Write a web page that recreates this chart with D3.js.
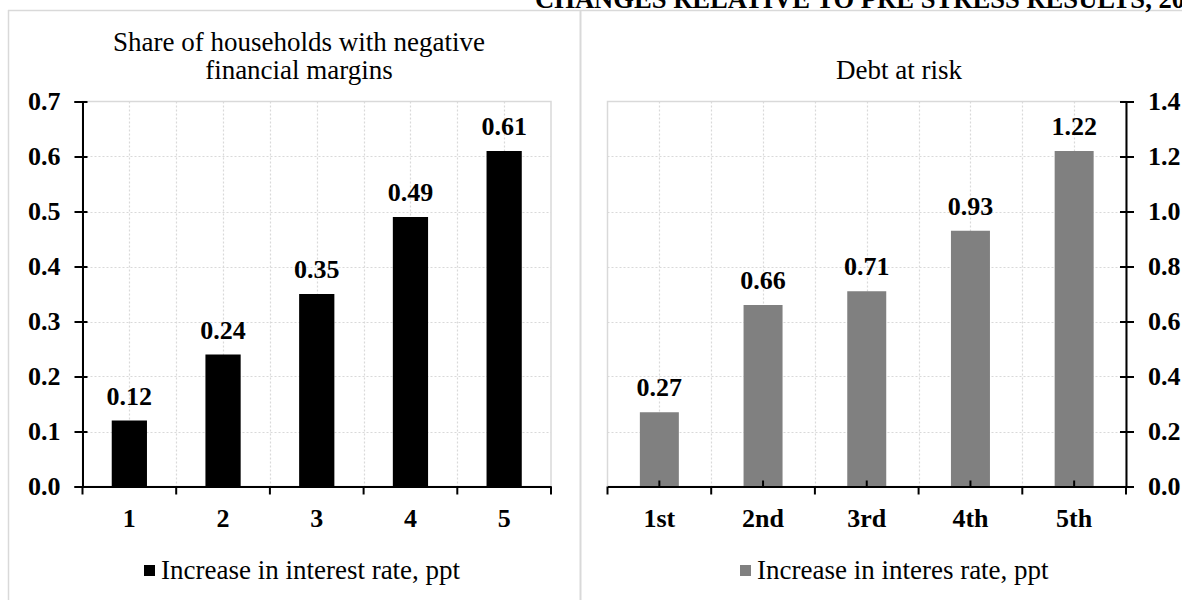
<!DOCTYPE html>
<html>
<head>
<meta charset="utf-8">
<script src="https://cdn.jsdelivr.net/npm/d3@7"></script>
<style>
  html, body { margin: 0; padding: 0; background: #fff; }
  svg { display: block; }
  text { font-family: "Liberation Serif", "Times New Roman", Times, serif; fill: #000; }
</style>
</head>
<body>
<svg id="chart" width="1182" height="600"></svg>
<script>
// Household stress test: changes relative to pre-stress results
const heading = "CHANGES RELATIVE TO PRE STRESS RESULTS, 2023";

const leftTitle = ["Share of households with negative", "financial margins"];
const leftCategories = ["1", "2", "3", "4", "5"];
const leftValues = [0.12, 0.24, 0.35, 0.49, 0.61];
const leftTicks = [0.0, 0.1, 0.2, 0.3, 0.4, 0.5, 0.6, 0.7];
const leftLegend = "Increase in interest rate, ppt";

const rightTitle = ["Debt at risk"];
const rightCategories = ["1st", "2nd", "3rd", "4th", "5th"];
const rightValues = [0.27, 0.66, 0.71, 0.93, 1.22];
const rightTicks = [0.0, 0.2, 0.4, 0.6, 0.8, 1.0, 1.2, 1.4];
const rightLegend = "Increase in interes rate, ppt";

const svg = d3.select("#chart");
const frame = "#d9d9d9";
const serif = "Liberation Serif, Times New Roman, serif";
const boldSize = 26;
const plainSize = 27;

// Outer frame and the divider between the two panels
svg.append("line").attr("x1", 8).attr("x2", 1182).attr("y1", 10.5).attr("y2", 10.5)
  .attr("stroke", frame).attr("stroke-width", 1.5);
svg.append("line").attr("x1", 8.5).attr("x2", 8.5).attr("y1", 10).attr("y2", 600)
  .attr("stroke", frame).attr("stroke-width", 1.5);
svg.append("line").attr("x1", 580.5).attr("x2", 580.5).attr("y1", 10).attr("y2", 600)
  .attr("stroke", frame).attr("stroke-width", 2);

svg.append("text")
  .attr("x", 535).attr("y", 7.5)
  .attr("font-size", 26.6).attr("font-weight", "bold")
  .text(heading);

function panel(opt) {
  const g = svg.append("g");
  const x = d3.scaleBand().domain(opt.categories).range([opt.x0, opt.x1]).paddingInner(0).paddingOuter(0);
  const y = d3.scaleLinear().domain([0, opt.max]).range([opt.yBottom, opt.yTop]);
  const bw = x.bandwidth() * 0.376;

  // plot area outline
  g.append("rect")
    .attr("x", opt.x0).attr("y", opt.yTop)
    .attr("width", opt.x1 - opt.x0).attr("height", opt.yBottom - opt.yTop)
    .attr("fill", "none").attr("stroke", frame).attr("stroke-width", 1.5);

  // horizontal gridlines
  g.append("g").selectAll("line").data(opt.ticks.slice(1, -1)).join("line")
    .attr("x1", opt.x0).attr("x2", opt.x1)
    .attr("y1", d => Math.round(y(d)) + 0.5).attr("y2", d => Math.round(y(d)) + 0.5)
    .attr("stroke", frame).attr("stroke-width", 1.2).attr("stroke-dasharray", "2,2");

  // vertical gridlines at band edges and band centres
  const vx = [];
  opt.categories.forEach((c, i) => {
    if (i > 0) vx.push(x(c));
    vx.push(x(c) + x.bandwidth() / 2);
  });
  g.append("g").selectAll("line").data(vx).join("line")
    .attr("x1", d => Math.round(d) + 0.5).attr("x2", d => Math.round(d) + 0.5)
    .attr("y1", opt.yTop).attr("y2", opt.yBottom)
    .attr("stroke", frame).attr("stroke-width", 1.2).attr("stroke-dasharray", "2,2");

  // bars
  g.append("g").selectAll("rect").data(opt.values).join("rect")
    .attr("x", (d, i) => x(opt.categories[i]) + (x.bandwidth() - bw) / 2)
    .attr("width", bw)
    .attr("y", d => y(d))
    .attr("height", d => y(0) - y(d))
    .attr("fill", opt.color);

  // value labels
  g.append("g").selectAll("text").data(opt.values).join("text")
    .attr("x", (d, i) => x(opt.categories[i]) + x.bandwidth() / 2)
    .attr("y", d => y(d) - 16)
    .attr("text-anchor", "middle")
    .attr("font-size", boldSize).attr("font-weight", "bold")
    .text(d => d3.format(".2f")(d));

  // value axis
  const yAxis = (opt.side === "left" ? d3.axisLeft(y) : d3.axisRight(y))
    .tickValues(opt.ticks).tickFormat(d3.format(".1f")).tickSizeOuter(0).tickSize(8).tickPadding(14);
  const ya = g.append("g")
    .attr("transform", `translate(${opt.side === "left" ? opt.x0 : opt.x1},0)`)
    .call(yAxis);
  ya.select(".domain").attr("stroke", "#000").attr("stroke-width", 2);
  ya.selectAll(".tick line").attr("stroke", "#000").attr("stroke-width", 2)
    .attr("x1", opt.side === "left" ? 5 : -6);
  ya.selectAll(".tick text")
    .attr("font-family", serif)
    .attr("font-size", boldSize).attr("font-weight", "bold").attr("fill", "#000");

  // category axis
  const xAxis = d3.axisBottom(x).tickSize(0).tickPadding(22).tickSizeOuter(0);
  const xa = g.append("g").attr("transform", `translate(0,${opt.yBottom})`).call(xAxis);
  xa.select(".domain").attr("stroke", "#000").attr("stroke-width", 2);
  xa.selectAll(".tick text")
    .attr("font-family", serif)
    .attr("font-size", boldSize).attr("font-weight", "bold").attr("fill", "#000")
    .attr("dy", "0.71em");

  // boundary ticks below the axis
  const edges = opt.categories.map(c => x(c)).concat([opt.x1]);
  g.append("g").selectAll("line").data(edges).join("line")
    .attr("x1", d => d).attr("x2", d => d)
    .attr("y1", opt.yBottom).attr("y2", opt.yBottom + 8)
    .attr("stroke", "#000").attr("stroke-width", 2);
  if (opt.centerTicks) {
    g.append("g").selectAll("line").data(opt.categories).join("line")
      .attr("x1", c => x(c) + x.bandwidth() / 2).attr("x2", c => x(c) + x.bandwidth() / 2)
      .attr("y1", opt.yBottom).attr("y2", opt.yBottom - 6)
      .attr("stroke", "#000").attr("stroke-width", 2);
  }

  // title
  g.append("g").selectAll("text").data(opt.title).join("text")
    .attr("x", opt.titleX)
    .attr("y", (d, i) => opt.titleY + i * 28)
    .attr("text-anchor", "middle")
    .attr("font-size", plainSize)
    .text(d => d);

  // legend
  const lg = g.append("g").attr("transform", `translate(${opt.legendX},579)`);
  lg.append("rect").attr("x", 0).attr("y", -14).attr("width", 11).attr("height", 11).attr("fill", opt.color);
  lg.append("text").attr("x", 17).attr("y", 0).attr("font-size", plainSize).text(opt.legend);
}

panel({
  categories: leftCategories, values: leftValues, ticks: leftTicks, max: 0.7,
  x0: 82.5, x1: 551, yTop: 101.5, yBottom: 486.5,
  side: "left", color: "#000", centerTicks: false,
  title: leftTitle, titleX: 299, titleY: 51,
  legend: leftLegend, legendX: 144
});

panel({
  categories: rightCategories, values: rightValues, ticks: rightTicks, max: 1.4,
  x0: 607.5, x1: 1126, yTop: 101.5, yBottom: 486.5,
  side: "right", color: "#808080", centerTicks: true,
  title: rightTitle, titleX: 899, titleY: 79,
  legend: rightLegend, legendX: 740
});
</script>
</body>
</html>
